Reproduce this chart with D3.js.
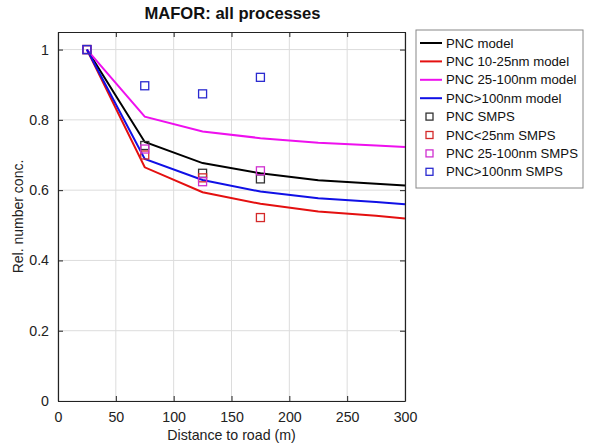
<!DOCTYPE html>
<html><head><meta charset="utf-8">
<script src="https://cdnjs.cloudflare.com/ajax/libs/d3/7.8.5/d3.min.js"></script>
<style>
body{margin:0;background:#fff;}
text{font-family:"Liberation Sans",Arial,sans-serif;}
</style></head>
<body><svg id="c" width="589" height="448"></svg>
<script>
const modelX = [25, 75, 125, 175, 225, 275, 300];
const pncModel = [1, 0.737, 0.677, 0.648, 0.628, 0.618, 0.613];
const pnc10_25Model = [1, 0.665, 0.594, 0.561, 0.539, 0.527, 0.519];
const pnc25_100Model = [1, 0.809, 0.767, 0.748, 0.735, 0.727, 0.723];
const pnc100Model = [1, 0.689, 0.629, 0.596, 0.577, 0.566, 0.560];

const smpsX = [25, 75, 125, 175];
const pncSmps = [1, 0.727, 0.648, 0.632];
const pnc25Smps = [1, 0.700, 0.635, 0.522];
const pnc25_100Smps = [1, 0.717, 0.624, 0.655];
const pnc100Smps = [1, 0.897, 0.874, 0.921];

const xTicks = [0, 50, 100, 150, 200, 250, 300];
const yTicks = [0, 0.2, 0.4, 0.6, 0.8, 1];

const lineSeries = [
  {name: "PNC model", values: pncModel, color: "#000000"},
  {name: "PNC 10-25nm model", values: pnc10_25Model, color: "#e41010"},
  {name: "PNC 25-100nm model", values: pnc25_100Model, color: "#ee10ee"},
  {name: "PNC>100nm model", values: pnc100Model, color: "#1010e6"}
];
const markerSeries = [
  {name: "PNC SMPS", values: pncSmps, color: "#333333"},
  {name: "PNC<25nm SMPS", values: pnc25Smps, color: "#d42a2a"},
  {name: "PNC 25-100nm SMPS", values: pnc25_100Smps, color: "#d030d0"},
  {name: "PNC>100nm SMPS", values: pnc100Smps, color: "#2a2ad0"}
];

const svg = d3.select("#c");
const L = 58, R = 405, T = 32, B = 401;
const x = d3.scaleLinear().domain([0, 300]).range([L, R]);
const y = d3.scaleLinear().domain([0, 1.05]).range([B, T]);

// grid
const g = svg.append("g");
g.selectAll(".gx").data(xTicks).enter().append("line")
  .attr("x1", d => x(d)).attr("x2", d => x(d)).attr("y1", T).attr("y2", B)
  .attr("stroke", "#dcdcdc").attr("stroke-width", 1);
g.selectAll(".gy").data(yTicks).enter().append("line")
  .attr("y1", d => y(d)).attr("y2", d => y(d)).attr("x1", L).attr("x2", R)
  .attr("stroke", "#dcdcdc").attr("stroke-width", 1);

// lines
const line = d3.line().x((d, i) => x(modelX[i])).y(d => y(d));
lineSeries.forEach(s => {
  svg.append("path").datum(s.values).attr("d", line)
    .attr("fill", "none").attr("stroke", s.color).attr("stroke-width", 2);
});

// markers
const ms = 8;
markerSeries.forEach(s => {
  svg.selectAll(null).data(s.values).enter().append("rect")
    .attr("x", (d, i) => x(smpsX[i]) - ms / 2).attr("y", d => y(d) - ms / 2)
    .attr("width", ms).attr("height", ms)
    .attr("fill", "none").attr("stroke", s.color).attr("stroke-width", 1.3);
});

// axes
const axB = svg.append("g").attr("transform", `translate(0,${B})`)
  .call(d3.axisBottom(x).tickValues(xTicks).tickSizeInner(-5).tickSizeOuter(0).tickPadding(11).tickFormat(d3.format("d")));
const axT = svg.append("g").attr("transform", `translate(0,${T})`)
  .call(d3.axisTop(x).tickValues(xTicks).tickSizeInner(-5).tickSizeOuter(0).tickFormat(""));
const axLf = svg.append("g").attr("transform", `translate(${L},0)`)
  .call(d3.axisLeft(y).tickValues(yTicks).tickSizeInner(-5).tickSizeOuter(0).tickPadding(9).tickFormat(d => d === 0 || d === 1 ? d3.format("d")(d) : d3.format(".1f")(d)));
const axRt = svg.append("g").attr("transform", `translate(${R},0)`)
  .call(d3.axisRight(y).tickValues(yTicks).tickSizeInner(-5).tickSizeOuter(0).tickFormat(""));
[axB, axT, axLf, axRt].forEach(a => {
  a.select(".domain").attr("stroke", "#222").attr("stroke-width", 1.2);
  a.selectAll(".tick line").attr("stroke", "#222");
  a.selectAll(".tick text").attr("font-size", 14.2).attr("fill", "#222")
    .attr("font-family", "'Liberation Sans',Arial,sans-serif");
});

// title & labels
svg.append("text").attr("x", (L + R) / 2 + 1).attr("y", 19).attr("text-anchor", "middle")
  .attr("font-size", 16.6).attr("font-weight", "bold").attr("fill", "#111").text("MAFOR: all processes");
svg.append("text").attr("x", (L + R) / 2).attr("y", 440).attr("text-anchor", "middle")
  .attr("font-size", 14.2).attr("fill", "#222").text("Distance to road (m)");
svg.append("text").attr("transform", `translate(23,${(T + B) / 2}) rotate(-90)`).attr("text-anchor", "middle")
  .attr("font-size", 14).attr("fill", "#222").text("Rel. number conc.");

// legend
const lg = svg.append("g");
lg.append("rect").attr("x", 416).attr("y", 30).attr("width", 167).attr("height", 158)
  .attr("fill", "#fff").attr("stroke", "#888").attr("stroke-width", 1);
const rowY = i => 43 + i * 18.4;
lineSeries.forEach((s, i) => {
  lg.append("line").attr("x1", 420).attr("x2", 442).attr("y1", rowY(i)).attr("y2", rowY(i))
    .attr("stroke", s.color).attr("stroke-width", 2);
  lg.append("text").attr("x", 446).attr("y", rowY(i)).attr("dy", "0.35em")
    .attr("font-size", 13.2).attr("fill", "#111").text(s.name);
});
markerSeries.forEach((s, j) => {
  const i = j + 4;
  lg.append("rect").attr("x", 429.5 - 3.5).attr("y", rowY(i) - 3.5).attr("width", 7).attr("height", 7)
    .attr("fill", "none").attr("stroke", s.color).attr("stroke-width", 1.3);
  lg.append("text").attr("x", 446).attr("y", rowY(i)).attr("dy", "0.35em")
    .attr("font-size", 13.2).attr("fill", "#111").text(s.name);
});
</script></body></html>
